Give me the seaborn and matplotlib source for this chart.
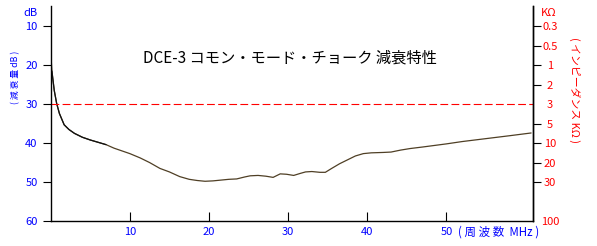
import matplotlib
matplotlib.use("Agg")
import matplotlib.pyplot as plt
import pandas as pd
import seaborn as sns

# ---- data ----
freq_mhz = [0.0, 0.15, 0.45, 0.75, 1.1, 1.7, 2.3, 3.0, 4.0, 5.0, 6.0, 7.0, 8.0, 9.0,
            10.0, 11.3, 12.5, 13.8, 15.0, 16.3, 17.5, 18.5, 19.5, 20.5, 21.5, 22.5,
            23.5, 24.5, 25.2, 26.2, 27.2, 28.1, 29.0, 29.8, 30.7, 31.5, 32.2, 33.0,
            34.0, 34.7, 35.5, 36.5, 37.4, 38.5, 39.5, 40.5, 42.0, 43.0, 44.2, 45.4,
            47.0, 48.5, 50.0, 52.0, 54.0, 56.0, 58.0, 60.7]
atten_db = [16.5, 21.5, 26.5, 29.8, 32.4, 35.3, 36.5, 37.5, 38.5, 39.2, 39.8, 40.4,
            41.3, 42.0, 42.7, 43.8, 45.0, 46.5, 47.4, 48.6, 49.3, 49.6, 49.8, 49.7,
            49.5, 49.3, 49.2, 48.7, 48.4, 48.3, 48.5, 48.8, 47.9, 48.0, 48.3, 47.8,
            47.4, 47.3, 47.5, 47.5, 46.5, 45.3, 44.4, 43.3, 42.7, 42.5, 42.4, 42.3,
            41.8, 41.4, 41.0, 40.6, 40.2, 39.6, 39.1, 38.6, 38.1, 37.4]
x_ticks = [10, 20, 30, 40, 50]
left_ticks = [10, 20, 30, 40, 50, 60]
right_tick_pos = [10, 15, 20, 25, 30, 35, 40, 45, 50, 60]
right_tick_labels = ["0.3", "0.5", "1", "2", "3", "5", "10", "20", "30", "100"]
ref_level_db = 30
title = "DCE-3 コモン・モード・チョーク 減衰特性"

sns.set_theme(style="white")
plt.rcParams['font.family'] = ['Noto Sans CJK JP', 'DejaVu Sans']

BLUE = "#0000ff"
RED = "#ff0000"
W, H = 597, 246
fig = plt.figure(figsize=(W / 100, H / 100), dpi=100)
ax = fig.add_axes([50.7 / W, 1 - 221 / H, (532.7 - 50.7) / W, (221 - 6) / H])

df = pd.DataFrame({"freq": freq_mhz, "atten": atten_db})
sns.lineplot(data=df, x="freq", y="atten", ax=ax, color="#4f3f25", lw=0.9, sort=False)
low = df[(df["freq"] >= 0.15) & (df["freq"] <= 7.0)]
sns.lineplot(data=low, x="freq", y="atten", ax=ax, color="#111111", lw=0.9, sort=False)
ax.axhline(ref_level_db, color=RED, lw=0.8, ls=(0, (7, 3)))

ax.set_xlim(0, 60.9)
ax.set_ylim(60, 4.8)
ax.set_xlabel("")
ax.set_ylabel("")

ax.spines["top"].set_visible(False)
for side in ["left", "bottom", "right"]:
    ax.spines[side].set_color("black")
    ax.spines[side].set_linewidth(1.0)

ax.set_xticks(x_ticks)
ax.set_xticklabels([str(v) for v in x_ticks])
ax.tick_params(axis="x", direction="in", length=6.5, width=0.8, colors="black",
               labelcolor=BLUE, labelsize=8, pad=4, bottom=True)
ax.set_yticks(left_ticks)
ax.set_yticklabels([str(v) for v in left_ticks])
ax.tick_params(axis="y", direction="out", length=5.5, width=0.8, colors="black",
               labelcolor=BLUE, labelsize=8, pad=4, left=True)
ax.yaxis.get_major_ticks()[-1].tick1line.set_visible(False)

ax2 = ax.twinx()
ax2.set_ylim(ax.get_ylim())
ax2.set_yticks(right_tick_pos)
ax2.set_yticklabels(right_tick_labels)
ax2.tick_params(axis="y", direction="out", length=5.5, width=0.8, colors="black",
                labelcolor=RED, labelsize=8, pad=6.8, right=True)
for lab in ax2.get_yticklabels():
    lab.set_horizontalalignment("center")
ax2.yaxis.get_major_ticks()[-1].tick2line.set_visible(False)
ax2.yaxis.get_major_ticks()[4].tick2line.set_visible(False)
for side in ["top", "left", "bottom"]:
    ax2.spines[side].set_visible(False)
ax2.spines["right"].set_color("black")
ax2.spines["right"].set_linewidth(1.0)
ax2.grid(False)
ax.grid(False)

fig.text(290 / W, 1 - 57.5 / H, title, ha="center", va="center", fontsize=11, color="black")
fig.text(37 / W, 1 - 13 / H, "dB", ha="right", va="center", fontsize=8, color=BLUE)
fig.text(549 / W, 1 - 13.5 / H, "KΩ", ha="center", va="center", fontsize=8, color=RED)
fig.text(15.5 / W, 1 - 77 / H, "( 減 衰 量 dB )", rotation=90, ha="center", va="center",
         fontsize=6.3, color=BLUE)
fig.text(575 / W, 1 - 90 / H, "( インピーダンス KΩ )", rotation=270, ha="center", va="center",
         fontsize=7.8, color=RED)
fig.text(458 / W, 1 - 232.5 / H, "( 周 波 数  MHz )", ha="left", va="center",
         fontsize=8.3, color=BLUE)

fig.savefig("out.png", dpi=100, facecolor="white")
